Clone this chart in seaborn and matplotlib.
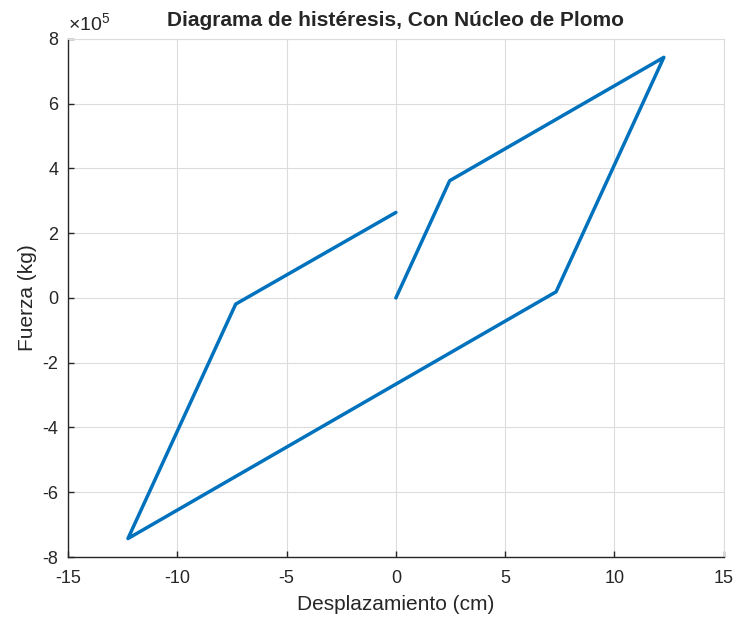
import matplotlib
matplotlib.use('Agg')
import matplotlib.pyplot as plt
import seaborn as sns
import pandas as pd
from matplotlib.ticker import FuncFormatter

# Lazo de histéresis (desplazamiento en cm, fuerza en kg)
desplazamiento = [0.0, 2.46, 12.26, 7.33, -12.26, -7.33, 0.0]
fuerza = [0.0, 3.62e5, 7.43e5, 0.19e5, -7.43e5, -0.19e5, 2.64e5]

x_ticks = [-15, -10, -5, 0, 5, 10, 15]
y_ticks = [-8e5, -6e5, -4e5, -2e5, 0, 2e5, 4e5, 6e5, 8e5]

df = pd.DataFrame({'x': desplazamiento, 'y': fuerza})

sns.set_style('whitegrid')
plt.rcParams['font.family'] = ['Liberation Sans', 'DejaVu Sans']
plt.rcParams['mathtext.fontset'] = 'custom'
plt.rcParams['mathtext.rm'] = 'Liberation Sans'
plt.rcParams['axes.unicode_minus'] = False

fig = plt.figure(figsize=(7.4, 6.22), dpi=100)
ax = fig.add_axes([0.092, 0.1045, 0.886, 0.833])

sns.lineplot(data=df, x='x', y='y', sort=False, estimator=None,
             color='#0072BD', linewidth=2.5, ax=ax)

ax.set_xlim(-15, 15)
ax.set_ylim(-8e5, 8e5)
ax.set_xticks(x_ticks)
ax.set_yticks(y_ticks)
# etiquetas en unidades de 10^5, estilo MATLAB
ax.yaxis.set_major_formatter(FuncFormatter(lambda v, p: f'{v / 1e5:g}'))
ax.text(0.0, 1.008, r'$\times10^{5}$', transform=ax.transAxes,
        fontsize=14, color='#262626', ha='left', va='bottom')

ax.grid(True, color='#dcdcdc', linewidth=0.8)
ax.tick_params(direction='in', length=4, width=1, colors='#262626',
               labelsize=13, top=False, right=False)
ax.tick_params(axis='x', bottom=True, pad=9)
ax.tick_params(axis='y', left=True, pad=7)
for side in ['left', 'bottom']:
    ax.spines[side].set_color('#262626')
    ax.spines[side].set_linewidth(1)
for side in ['top', 'right']:
    ax.spines[side].set_color('#dcdcdc')
    ax.spines[side].set_linewidth(0.8)

ax.set_title('Diagrama de histéresis, Con Núcleo de Plomo',
             fontsize=15, fontweight='bold', pad=9)
ax.set_xlabel('Desplazamiento (cm)', fontsize=15, color='#262626', labelpad=6)
ax.set_ylabel('Fuerza (kg)', fontsize=15, color='#262626', labelpad=4)

plt.savefig('out.png', dpi=100)
plt.close()
